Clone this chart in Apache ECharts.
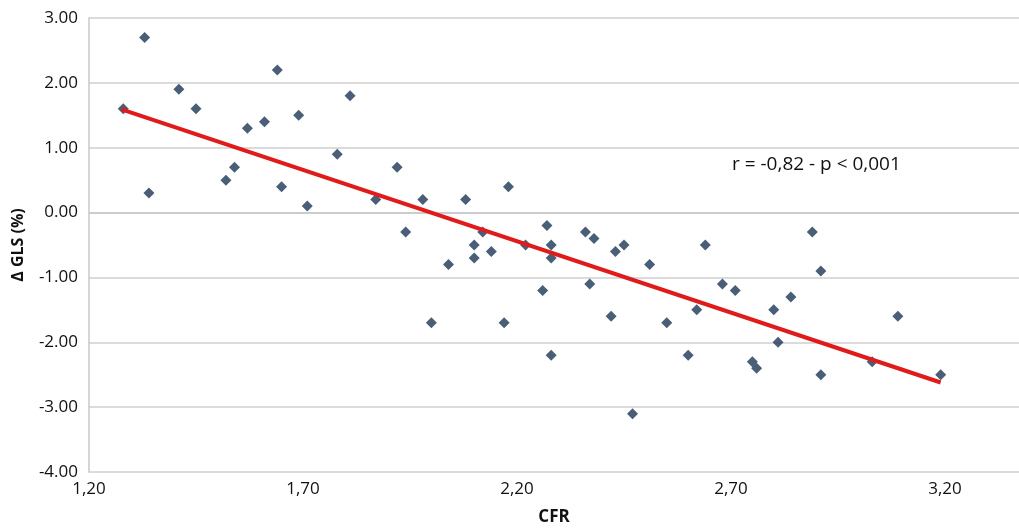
<!DOCTYPE html>
<html>
<head>
<meta charset="utf-8">
<script src="https://cdn.jsdelivr.net/npm/echarts@6/dist/echarts.min.js"></script>
<style>
html,body{margin:0;padding:0;background:#fff;}
#chart{width:1019px;height:531px;}
</style>
</head>
<body>
<div id="chart"></div>
<script>
// CFR values (x)
const cfr = [1.28,1.33,1.34,1.41,1.45,1.52,1.54,1.57,1.61,1.64,1.65,1.69,1.71,1.78,1.81,1.87,1.92,1.94,1.98,2.00,
  2.04,2.08,2.10,2.10,2.12,2.14,2.17,2.18,2.22,2.26,2.27,2.28,2.28,2.28,2.36,2.37,2.38,2.42,2.43,2.45,
  2.47,2.51,2.55,2.60,2.62,2.64,2.68,2.71,2.75,2.76,2.80,2.81,2.84,2.89,2.91,2.91,3.03,3.09,3.19];
// Delta GLS (%) values (y)
const dgls = [1.6,2.7,0.3,1.9,1.6,0.5,0.7,1.3,1.4,2.2,0.4,1.5,0.1,0.9,1.8,0.2,0.7,-0.3,0.2,-1.7,
  -0.8,0.2,-0.5,-0.7,-0.3,-0.6,-1.7,0.4,-0.5,-1.2,-0.2,-0.7,-2.2,-0.5,-0.3,-1.1,-0.4,-1.6,-0.6,-0.5,
  -3.1,-0.8,-1.7,-2.2,-1.5,-0.5,-1.1,-1.2,-2.3,-2.4,-1.5,-2.0,-1.3,-0.3,-0.9,-2.5,-2.3,-1.6,-2.5];
// Trend line endpoints
const trendX = [1.276, 3.19];
const trendY = [1.59, -2.62];
// Tick labels
const xTickLabels = ['1,20','1,70','2,20','2,70','3,20'];
const yTickLabels = ['-4.00','-3.00','-2.00','-1.00','0.00','1.00','2.00','3.00'];
const annotation = 'r = -0,82 - p < 0,001';

const xMin = 1.2, xStep = 0.5, xMax = 3.373;
const yMin = -4, yStep = 1, yMax = 3;

const points = cfr.map((v, i) => [v, dgls[i]]);
const trend = trendX.map((v, i) => [v, trendY[i]]);

const FONT = '"Open Sans", "Liberation Sans", sans-serif';
const chart = echarts.init(document.getElementById('chart'), null, {renderer: 'canvas'});
chart.setOption({
  animation: false,
  backgroundColor: '#ffffff',
  grid: {left: 89, right: 0, top: 18, bottom: 57, containLabel: false},
  xAxis: {
    type: 'value', min: xMin, max: xMax, interval: xStep,
    name: 'CFR', nameLocation: 'middle', nameGap: 37,
    nameTextStyle: {fontFamily: FONT, fontWeight: 'bold', fontSize: 17, color: '#111'},
    axisLine: {show: true, lineStyle: {color: '#c8c8c8', width: 1.5}},
    axisTick: {show: false},
    splitLine: {show: false},
    axisLabel: {
      fontFamily: FONT, fontSize: 17, color: '#111', margin: 9,
      showMaxLabel: false,
      formatter: function (v) {
        const k = (v - xMin) / xStep;
        const r = Math.round(k);
        if (Math.abs(k - r) > 1e-6) return '';
        return xTickLabels[r] || '';
      }
    }
  },
  yAxis: {
    type: 'value', min: yMin, max: yMax, interval: yStep,
    name: 'Δ GLS (%)', nameLocation: 'middle', nameGap: 63, nameRotate: 90,
    nameTextStyle: {fontFamily: FONT, fontWeight: 'bold', fontSize: 16, color: '#111'},
    axisLine: {show: true, lineStyle: {color: '#c8c8c8', width: 1.5}},
    axisTick: {show: false},
    splitLine: {show: true, lineStyle: {color: '#cfcfcf', width: 1.5}},
    axisLabel: {
      fontFamily: FONT, fontSize: 17, color: '#111', margin: 11,
      formatter: function (v) {
        const r = Math.round((v - yMin) / yStep);
        return yTickLabels[r] || '';
      }
    }
  },
  graphic: [{
    type: 'text', left: 732, top: 155,
    style: {text: annotation, font: '19px ' + FONT, fill: '#111'}
  }],
  series: [
    {
      type: 'scatter', data: points, symbol: 'diamond', symbolSize: 11,
      itemStyle: {color: '#1d3656'}, z: 2
    },
    {
      type: 'line', data: trend, symbol: 'none',
      lineStyle: {color: '#e01b1b', width: 4}, z: 3
    }
  ]
});
</script>
</body>
</html>
